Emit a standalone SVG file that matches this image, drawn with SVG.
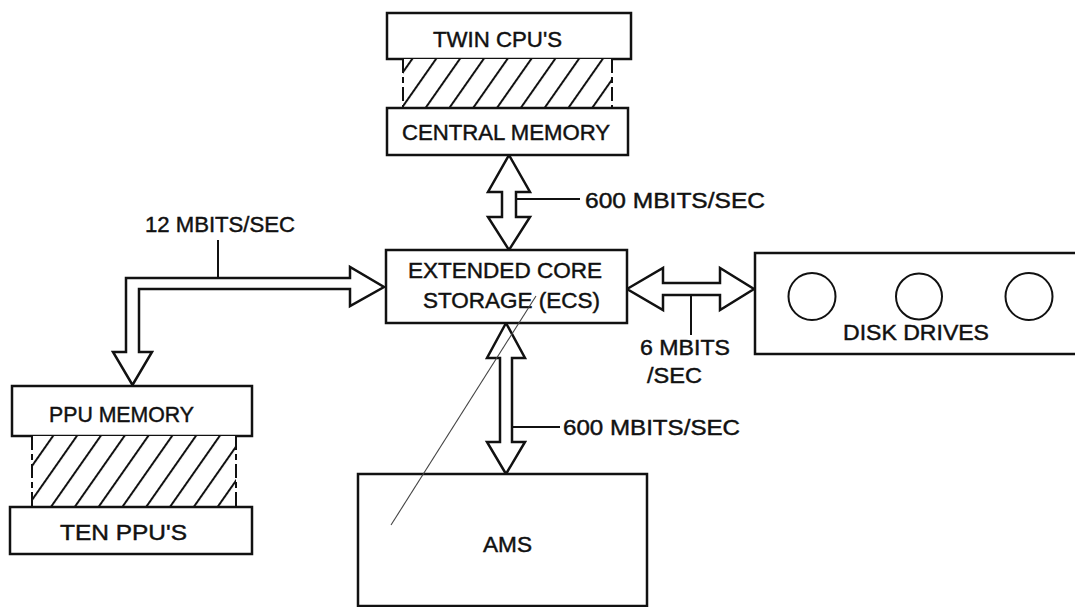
<svg xmlns="http://www.w3.org/2000/svg" width="1075" height="607" viewBox="0 0 1075 607">
<style>
.box{fill:#fff;stroke:#111;stroke-width:2.5}
.arr{fill:#fff;stroke:#111;stroke-width:2.5;stroke-linejoin:miter}
.ln{fill:none;stroke:#111;stroke-width:2}
.side{fill:none;stroke:#111;stroke-width:2;stroke-dasharray:14 4 6 4}
.t{font-family:"Liberation Sans",Arial,sans-serif;font-size:22.5px;fill:#111;stroke:#111;stroke-width:0.45}
.hatch{fill:url(#h)}
</style>
<defs>
<pattern id="h" patternUnits="userSpaceOnUse" width="19.5" height="40" patternTransform="rotate(35)">
<rect width="19.5" height="40" fill="#fff"/>
<line x1="1" y1="0" x2="1" y2="40" stroke="#111" stroke-width="2"/>
</pattern>
</defs>
<rect width="1075" height="607" fill="#fff"/>

<g id="connectors">
<polygon class="arr" points="509,155 530,192 516,192 516,217 530,217 509,250 488,217 502,217 502,192 488,192"/>
<line class="ln" x1="516" y1="199" x2="580" y2="199"/>
<polygon class="arr" points="506,323 525,358 512,358 512,442 525,442 506,474 487,442 500,442 500,358 487,358"/>
<line class="ln" x1="512" y1="427" x2="560" y2="427"/>
<polygon class="arr" points="627,289 663,268 663,283 720,283 720,268 754,289 720,310 720,295 663,295 663,310"/>
<line class="ln" x1="691" y1="295" x2="691" y2="335"/>
<polygon class="arr" points="126,352 126,278 350,278 350,267 384,287 350,306 350,289 139,289 139,352 152,352 132.5,385 113,352"/>
<line class="ln" x1="218" y1="240" x2="218" y2="278"/>
</g>

<g id="cpu">
<rect class="box" x="387" y="13" width="244" height="46"/>
<text class="t" x="433" y="47" textLength="129" lengthAdjust="spacingAndGlyphs">TWIN CPU'S</text>
</g>
<g id="cpu-link">
<rect class="hatch" x="403" y="59" width="209" height="49"/>
<line class="side" x1="403" y1="59" x2="403" y2="108"/>
<line class="side" x1="612" y1="59" x2="612" y2="108"/>
</g>
<g id="central-memory">
<rect class="box" x="387" y="108" width="241" height="47"/>
<text class="t" x="402" y="140" textLength="208" lengthAdjust="spacingAndGlyphs">CENTRAL MEMORY</text>
</g>
<g id="label-600a">
<text class="t" x="585" y="208" textLength="180" lengthAdjust="spacingAndGlyphs">600 MBITS/SEC</text>
</g>
<g id="ecs">
<rect class="box" x="386" y="250" width="241" height="73"/>
<text class="t" x="408" y="278" textLength="194" lengthAdjust="spacingAndGlyphs">EXTENDED CORE</text>
<text class="t" x="423" y="308" textLength="177" lengthAdjust="spacingAndGlyphs">STORAGE (ECS)</text>
</g>
<g id="label-12">
<text class="t" x="145" y="232" textLength="150" lengthAdjust="spacingAndGlyphs">12 MBITS/SEC</text>
</g>
<g id="disk-drives">
<rect class="box" x="755" y="253" width="330" height="101"/>
<circle class="ln" cx="812" cy="296.5" r="23.5"/>
<circle class="ln" cx="919" cy="296.5" r="23"/>
<circle class="ln" cx="1029" cy="296.5" r="23.5"/>
<text class="t" x="843" y="340" textLength="146" lengthAdjust="spacingAndGlyphs">DISK DRIVES</text>
</g>
<g id="label-6">
<text class="t" x="640" y="355" textLength="90" lengthAdjust="spacingAndGlyphs">6 MBITS</text>
<text class="t" x="647" y="383" textLength="55" lengthAdjust="spacingAndGlyphs">/SEC</text>
</g>
<g id="ppu-memory">
<rect class="box" x="12" y="386" width="240" height="50"/>
<text class="t" x="49" y="422" textLength="145" lengthAdjust="spacingAndGlyphs">PPU MEMORY</text>
</g>
<g id="ppu-link">
<rect class="hatch" x="32" y="436" width="204" height="71"/>
<line class="side" x1="32" y1="436" x2="32" y2="507"/>
<line class="side" x1="236" y1="436" x2="236" y2="507"/>
</g>
<g id="ten-ppus">
<rect class="box" x="10" y="507" width="242" height="47"/>
<text class="t" x="60" y="540" textLength="127" lengthAdjust="spacingAndGlyphs">TEN PPU'S</text>
</g>
<g id="label-600b">
<text class="t" x="563" y="435" textLength="177" lengthAdjust="spacingAndGlyphs">600 MBITS/SEC</text>
</g>
<g id="ams">
<rect class="box" x="358" y="474" width="289" height="132"/>
<text class="t" x="483" y="552" textLength="49" lengthAdjust="spacingAndGlyphs">AMS</text>
</g>
<line x1="536" y1="296" x2="391" y2="525" stroke="#444" stroke-width="1.1"/>
</svg>
